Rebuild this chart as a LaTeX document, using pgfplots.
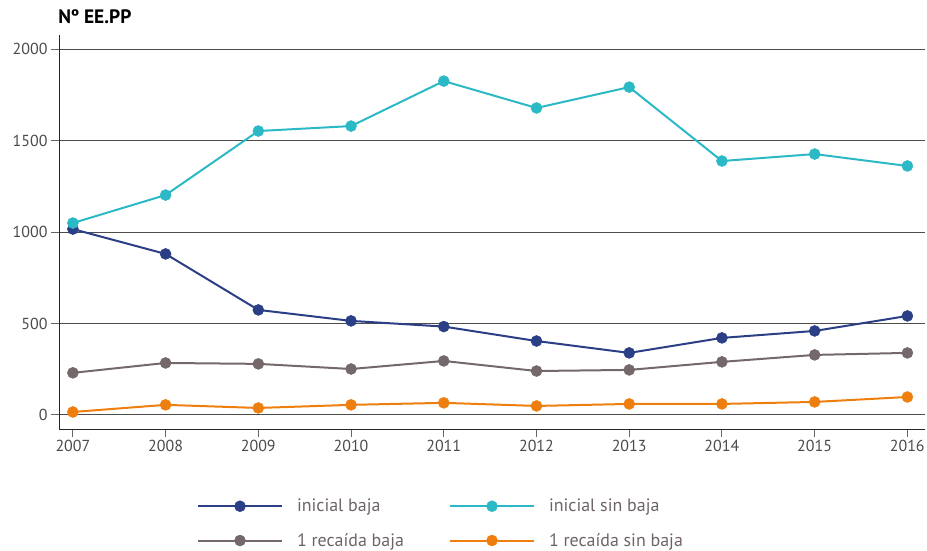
\documentclass[border=0pt]{standalone}
\usepackage{pgfplots}
\pgfplotsset{compat=1.18}
\usepackage{fontspec}
\setmainfont{PT Sans}
\definecolor{cA}{HTML}{2B3F87}
\definecolor{cB}{HTML}{2BB9C5}
\definecolor{cC}{HTML}{74686A}
\definecolor{cD}{HTML}{EE7F0E}
\definecolor{legtext}{HTML}{6E6466}
\definecolor{ticktext}{HTML}{4A4A4A}
\begin{document}
\begin{tikzpicture}[font=\fontsize{15}{18}\selectfont]
\begin{axis}[
  scale only axis, width=866bp, height=394bp,
  xmin=2006.85, xmax=2016.19, ymin=-77, ymax=2077,
  axis x line*=bottom, axis y line*=left,
  axis line style={black!85, line width=0.9bp},
  xtick={2007,...,2016}, ytick={0,500,...,2000},
  ymajorgrids, grid style={black!70, line width=0.9bp},
  tick align=outside, major tick length=8bp,
  tick style={black!60, line width=0.9bp},
  /pgf/number format/assume math mode=true,
  /pgf/number format/1000 sep={},
  ticklabel style={text=ticktext, font=\fontsize{16}{19}\selectfont},
  clip=false,
  legend columns=2,
  legend style={draw=none, fill=none, inner sep=0pt, outer sep=0pt,
    at={(0.1594,-0.178)}, anchor=north west,
    font=\fontsize{18}{21}\selectfont, text=legtext,
    /tikz/row sep=20bp,
    nodes={inner sep=0pt, outer sep=0pt}},
  legend cell align=left,
  legend image code/.code={
    \path[draw=none,fill=none] (0bp,0bp) -- (99bp,0bp);
    \draw[mark repeat=2,mark phase=2,#1] plot coordinates {(0bp,0bp) (42bp,0bp) (84bp,0bp)};
  },
]
\addplot[color=cA, line width=2bp, mark=*, mark size=5.5bp, mark options={fill=cA, draw=cA, line width=0.5bp}] coordinates {
 (2007,1016) (2008,880) (2009,574) (2010,514) (2011,483) (2012,404) (2013,339) (2014,421) (2015,459) (2016,541)};
\addlegendentry{\makebox[152bp][l]{inicial baja}}
\addplot[color=cB, line width=2bp, mark=*, mark size=5.5bp, mark options={fill=cB, draw=cB, line width=0.5bp}] coordinates {
 (2007,1049) (2008,1202) (2009,1552) (2010,1579) (2011,1825) (2012,1678) (2013,1792) (2014,1388) (2015,1426) (2016,1361)};
\addlegendentry{inicial sin baja}
\addplot[color=cC, line width=2bp, mark=*, mark size=5.5bp, mark options={fill=cC, draw=cC, line width=0.5bp}] coordinates {
 (2007,230) (2008,284) (2009,279) (2010,251) (2011,295) (2012,240) (2013,246) (2014,290) (2015,328) (2016,339)};
\addlegendentry{\makebox[152bp][l]{1 recaída baja}}
\addplot[color=cD, line width=2bp, mark=*, mark size=5.5bp, mark options={fill=cD, draw=cD, line width=0.5bp}] coordinates {
 (2007,16) (2008,55) (2009,38) (2010,55) (2011,66) (2012,49) (2013,60) (2014,60) (2015,71) (2016,98)};
\addlegendentry{1 recaída sin baja}
\node[anchor=base west, font=\fontsize{19.5}{23}\selectfont\bfseries, inner sep=0pt] at (rel axis cs:-0.001,1.028) {Nº EE.PP};
\coordinate (bbBL) at (rel axis cs:-0.0681,-0.3096);
\coordinate (bbTR) at (rel axis cs:1.0023,1.0888);
\end{axis}
\pgfresetboundingbox
\path[use as bounding box] (bbBL) rectangle (bbTR);
\end{tikzpicture}
\end{document}
